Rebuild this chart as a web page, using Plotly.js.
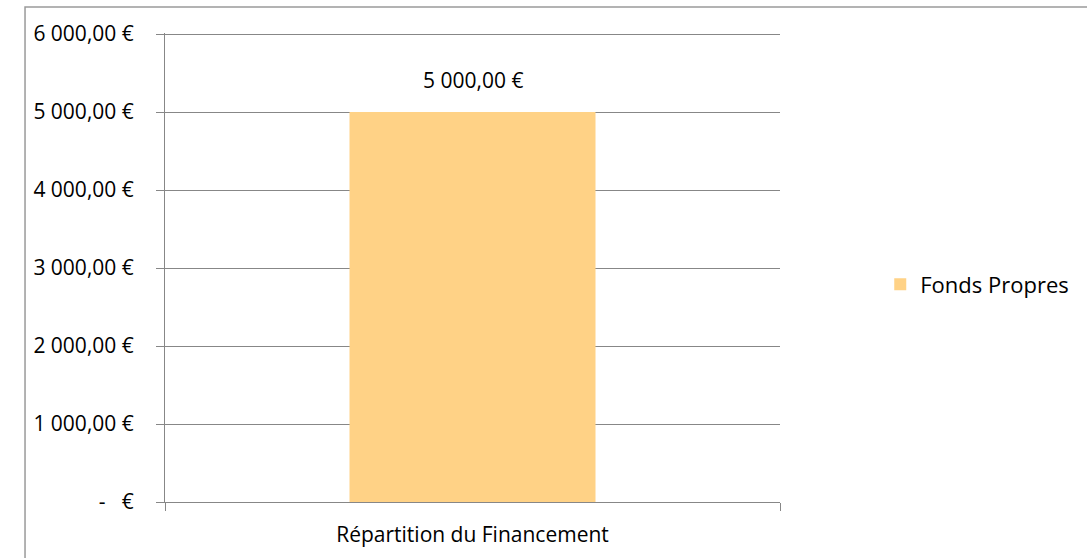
<!DOCTYPE html>
<html>
<head>
<meta charset="utf-8">
<script src="https://cdn.plot.ly/plotly-3.0.1.min.js"></script>
<style>
html,body{margin:0;padding:0;background:#fff;}
#chart{width:1087px;height:558px;}
</style>
</head>
<body>
<div id="chart"></div>
<script>
var categories = ["Répartition du Financement"];
var seriesName = "Fonds Propres";
var values = [5000];
var dataLabels = ["5 000,00 €"];
var yTickVals = [0, 1000, 2000, 3000, 4000, 5000, 6000];
var yTickText = ["-\u00a0\u00a0\u00a0€", "1 000,00 €", "2 000,00 €", "3 000,00 €", "4 000,00 €", "5 000,00 €", "6 000,00 €"];

var FONT = "Open Sans, sans-serif";
var GRID = "#878787";

var trace = {
  type: "bar",
  x: categories,
  y: values,
  name: seriesName,
  width: 0.4,
  marker: {color: "#FFD286", line: {width: 0}},
  showlegend: true,
  hoverinfo: "none"
};

var annotations = categories.map(function (c, i) {
  return {
    x: c, y: values[i], xref: "x", yref: "y",
    text: dataLabels[i], showarrow: false,
    yanchor: "middle", yshift: 32,
    font: {family: FONT, size: 21, color: "#000"}
  };
});

var layout = {
  width: 1087, height: 558,
  margin: {l: 165, r: 307, t: 33, b: 56, pad: 0},
  paper_bgcolor: "#fff", plot_bgcolor: "#fff",
  font: {family: FONT, size: 21, color: "#000"},
  showlegend: true,
  legend: {
    x: 1.163, y: 0.4637, xanchor: "left", yanchor: "middle",
    font: {family: FONT, size: 22, color: "#000"},
    bgcolor: "rgba(0,0,0,0)", borderwidth: 0
  },
  xaxis: {
    type: "category",
    range: [-0.5, 0.5],
    tickson: "boundaries",
    ticks: "outside", ticklen: 8, tickcolor: GRID, tickwidth: 1,
    showline: true, linecolor: GRID, linewidth: 1,
    showgrid: false, zeroline: false,
    ticklabelstandoff: 14,
    tickfont: {family: FONT, size: 21, color: "#000"},
    fixedrange: true
  },
  yaxis: {
    range: [0, 6013],
    tickvals: yTickVals, ticktext: yTickText, tickmode: "array",
    ticks: "outside", ticklen: 8, tickcolor: GRID, tickwidth: 1,
    showline: true, linecolor: GRID, linewidth: 1,
    showgrid: true, gridcolor: GRID, gridwidth: 1,
    zeroline: false,
    ticklabelstandoff: 18,
    tickfont: {family: FONT, size: 21, color: "#000"},
    fixedrange: true
  },
  annotations: annotations,
  shapes: [{
    type: "rect", xref: "paper", yref: "paper", layer: "below",
    x0: -0.2276, x1: 1.6, y0: -0.2, y1: 1.0556,
    line: {color: "#9a9a9a", width: 1.5}, fillcolor: "rgba(0,0,0,0)"
  }]
};

Plotly.newPlot("chart", [trace], layout, {displayModeBar: false, staticPlot: true});
</script>
</body>
</html>
